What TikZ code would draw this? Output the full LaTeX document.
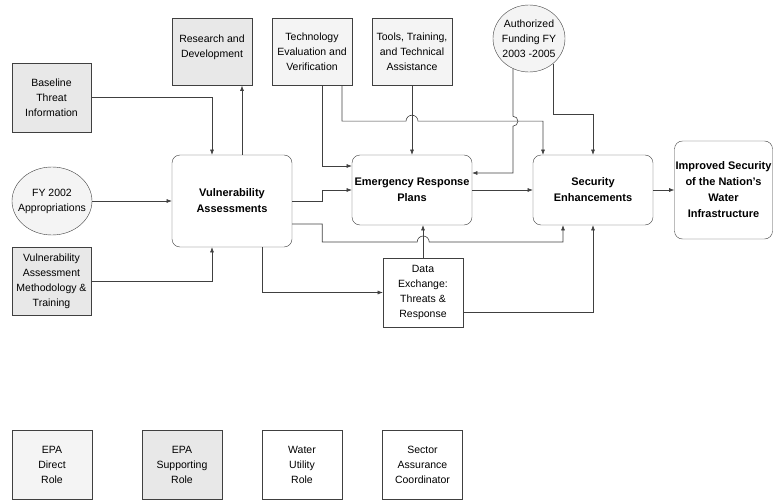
\documentclass[tikz,border=0pt]{standalone}
\usepackage{fontspec}
\setmainfont{Liberation Sans}
\usetikzlibrary{arrows.meta,positioning,shapes.geometric}
\usepackage{xcolor}

\begin{document}
\begin{tikzpicture}[
  x=1pt, y=-1pt,
  box/.style={draw=black!75, align=center, font=\fontsize{10.5}{15}\selectfont, inner sep=2pt, minimum width=80pt, minimum height=67pt},
  stage/.style={box, rounded corners=8pt, font=\bfseries\fontsize{11}{16}\selectfont, minimum width=120pt, minimum height=70pt},
  oval/.style={box, ellipse, inner xsep=-6pt, inner ysep=0pt},
  direct/.style={fill=gray!9},
  support/.style={fill=gray!18},
  flow/.style={-{Latex[length=1.8mm, width=1.4mm]}, draw=black!75, line width=0.6pt}
]
\useasboundingbox (0,0) rectangle (773,500);
\node[box, support, text depth=11pt] (research) at (212,52) {Research and\\Development};
\node[box, direct] (techeval) at (312,51.5) {Technology\\Evaluation and\\Verification};
\node[box, direct] (tools) at (412,52) {Tools, Training,\\and Technical\\Assistance};
\node[oval, direct, minimum width=72pt, minimum height=67pt] (funding) at (529,38.5) {Authorized\\Funding FY\\2003 -2005};
\node[box, support, minimum width=79pt, minimum height=69pt] (baseline) at (51.5,97.5) {Baseline\\Threat\\Information};
\node[oval, direct, minimum width=80pt, minimum height=68pt] (fyapprop) at (52,201) {FY 2002\\Appropriations};
\node[box, support, minimum width=79pt, minimum height=68pt] (methtrain) at (51.5,281) {Vulnerability\\Assessment\\Methodology \&\\Training};
\node[stage, minimum height=92pt] (vuln) at (232,201) {Vulnerability\\Assessments};
\node[stage] (erp) at (412,190) {Emergency Response\\Plans};
\node[stage] (secenh) at (593,190) {Security\\Enhancements};
\node[stage, inner xsep=0pt, minimum width=98pt, minimum height=98pt] (improved) at (723.5,190) {Improved Security\\of the Nation's\\Water\\Infrastructure};
\node[box, minimum height=69pt] (dataex) at (423,292.5) {Data\\Exchange:\\Threats \&\\Response};
\node[box, direct, minimum height=69pt] (legdirect) at (52,464.5) {EPA\\Direct\\Role};
\node[box, support, minimum height=69pt] (legsupport) at (182,464.5) {EPA\\Supporting\\Role};
\node[box, minimum height=69pt] (legutility) at (302,464.5) {Water\\Utility\\Role};
\node[box, minimum height=69pt] (legsector) at (422.5,464.5) {Sector\\Assurance\\Coordinator};
\draw[flow] (baseline.east) -| ([xshift=-20pt]vuln.north);
\draw[flow] ([xshift=10pt]vuln.north) -- ([xshift=30pt]research.south);
\draw[flow] (fyapprop.east) -- (vuln.west);
\draw[flow] (methtrain.east) -| ([xshift=-20pt]vuln.south);
\draw[flow] ([xshift=10pt]techeval.south) |- ([yshift=24pt]erp.west);
\draw[flow] ([xshift=30pt]techeval.south) -- ++(0,36) -- ++(64,0) arc[start angle=180, end angle=360, radius=6] -| ([xshift=-50pt]secenh.north);
\draw[flow] (tools.south) -- (erp.north);
\draw[flow] (funding.-118) -- ++(0,47.5) arc[start angle=-90, end angle=90, radius=5] |- ([yshift=17pt]erp.east);
\draw[flow] (funding.-46) |- ([yshift=40pt]secenh.north) -- (secenh.north);
\draw[flow] (vuln.east) -- ++(30,0) |- (erp.west);
\draw[flow] ([yshift=-23pt]vuln.east) -- ++(30,0) -- ++(0,18) -- ++(95,0) arc[start angle=180, end angle=360, radius=6] -| ([xshift=-30pt]secenh.south);
\draw[flow] (dataex.north) -- (dataex.north |- erp.south);
\draw[flow] ([yshift=-20pt]dataex.east) -| (secenh.south);
\draw[flow] ([xshift=30pt]vuln.south) |- (dataex.west);
\draw[flow] (erp.east) -- (secenh.west);
\draw[flow] (secenh.east) -- (improved.west);
\end{tikzpicture}
\end{document}
